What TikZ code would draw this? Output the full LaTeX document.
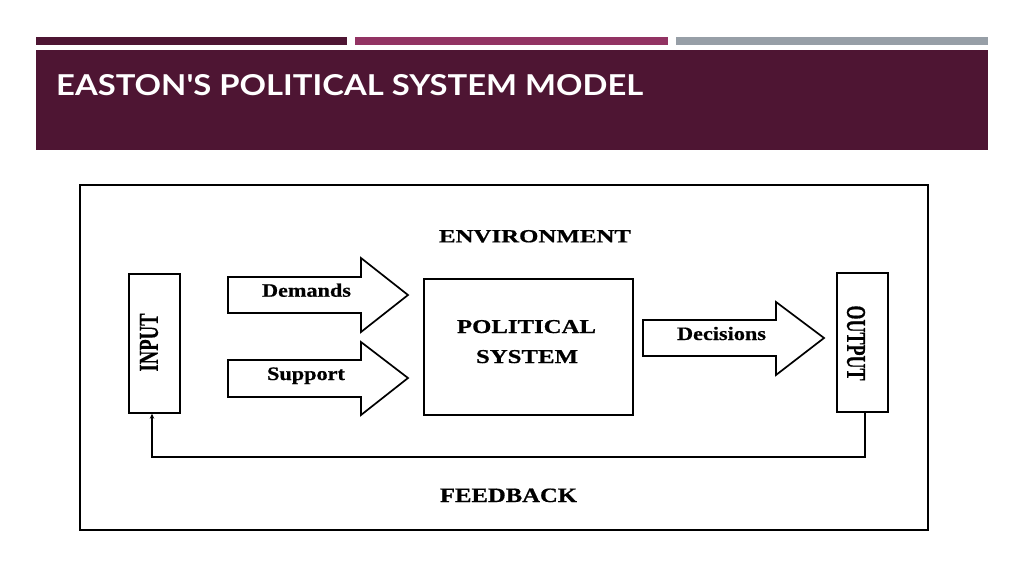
\documentclass[tikz,border=0pt]{standalone}
\usepackage{fontspec}
\setmainfont{Liberation Serif}[BoldFeatures={FakeBold=0.6}]
\newfontfamily\titlefont{Lato}
\usetikzlibrary{arrows.meta}
\definecolor{bandcol}{HTML}{4E1533}
\definecolor{pinkbar}{HTML}{923363}
\definecolor{graybar}{HTML}{979FA7}
\tikzset{
  box/.style={draw=black, line width=1.7pt},
  blockarrow/.style={draw=black, line width=1.7pt, fill=white, line join=miter},
  lbl/.style={inner sep=0pt, outer sep=0pt, anchor=base, font=\bfseries\fontsize{19}{20}\selectfont},
  rlbl/.style={inner sep=0pt, outer sep=0pt, anchor=center, font=\bfseries\fontsize{19}{20}\selectfont},
  fb/.style={line width=1.5pt, -{Stealth[length=5pt,width=4.5pt]}}
}
\begin{document}
\begin{tikzpicture}[x=1pt,y=-1pt]
\useasboundingbox (0,0) rectangle (1024,574);
\fill[white] (0,0) rectangle (1024,574);
% header
\fill[bandcol] (36,37) rectangle (347,44.5);
\fill[pinkbar] (355,37) rectangle (668,44.5);
\fill[graybar] (676,37) rectangle (988,44.5);
\fill[bandcol] (35.5,50) rectangle (988,149.5);
\node[inner sep=0pt, anchor=base west, text=white] (title) at (56,95)
  {\resizebox{587pt}{21pt}{\titlefont\bfseries EASTON'S POLITICAL SYSTEM MODEL}};
% outer environment box
\draw[box, line width=2.2pt] (80,185) rectangle (928,530);
% input / output boxes
\node[box, minimum width=51pt, minimum height=139pt, inner sep=0pt, anchor=north west] (input) at (128,273) {};
\node[box, minimum width=51pt, minimum height=139pt, inner sep=0pt, anchor=north west] (output) at (836,272) {};
\node[box, minimum width=209pt, minimum height=136pt, inner sep=0pt, anchor=north west] (polsys) at (423,278) {};
\node[rlbl, rotate=90] (inlbl) at (149,342.5) {\resizebox{58pt}{18pt}{INPUT}};
\node[rlbl, rotate=-90] (outlbl) at (856,343) {\resizebox{75pt}{18pt}{OUTPUT}};
% block arrows
\draw[blockarrow] (228,277) -- (361,277) -- (361,258) -- (408,295) -- (361,332) -- (361,313) -- (228,313) -- cycle;
\draw[blockarrow] (228,360) -- (361,360) -- (361,342) -- (408,378) -- (361,415) -- (361,397) -- (228,397) -- cycle;
\draw[blockarrow] (643,320) -- (776,320) -- (776,302) -- (824,338) -- (776,375) -- (776,356) -- (643,356) -- cycle;
% labels
\node[lbl] (env) at (535,242.3) {\resizebox{192pt}{12.3pt}{ENVIRONMENT}};
\node[lbl] (pol) at (526.5,333) {\resizebox{139pt}{13pt}{POLITICAL}};
\node[lbl] (sys) at (527,363) {\resizebox{102pt}{13pt}{SYSTEM}};
\node[lbl] (feed) at (508.5,502) {\resizebox{137pt}{13.5pt}{FEEDBACK}};
\node[lbl] (dem) at (306.5,296.7) {\scalebox{1.17}[1]{Demands}};
\node[lbl] (sup) at (306,380) {\scalebox{1.17}[1]{Support}};
\node[lbl] (dec) at (721.5,340) {\scalebox{1.17}[1]{Decisions}};
% feedback loop
\coordinate (fbr) at (865,457);
\coordinate (fbl) at (152,457);
\draw[fb] (output.south -| fbr) -- (fbr) -- (fbl) -- (fbl |- input.south);
\end{tikzpicture}
\end{document}
